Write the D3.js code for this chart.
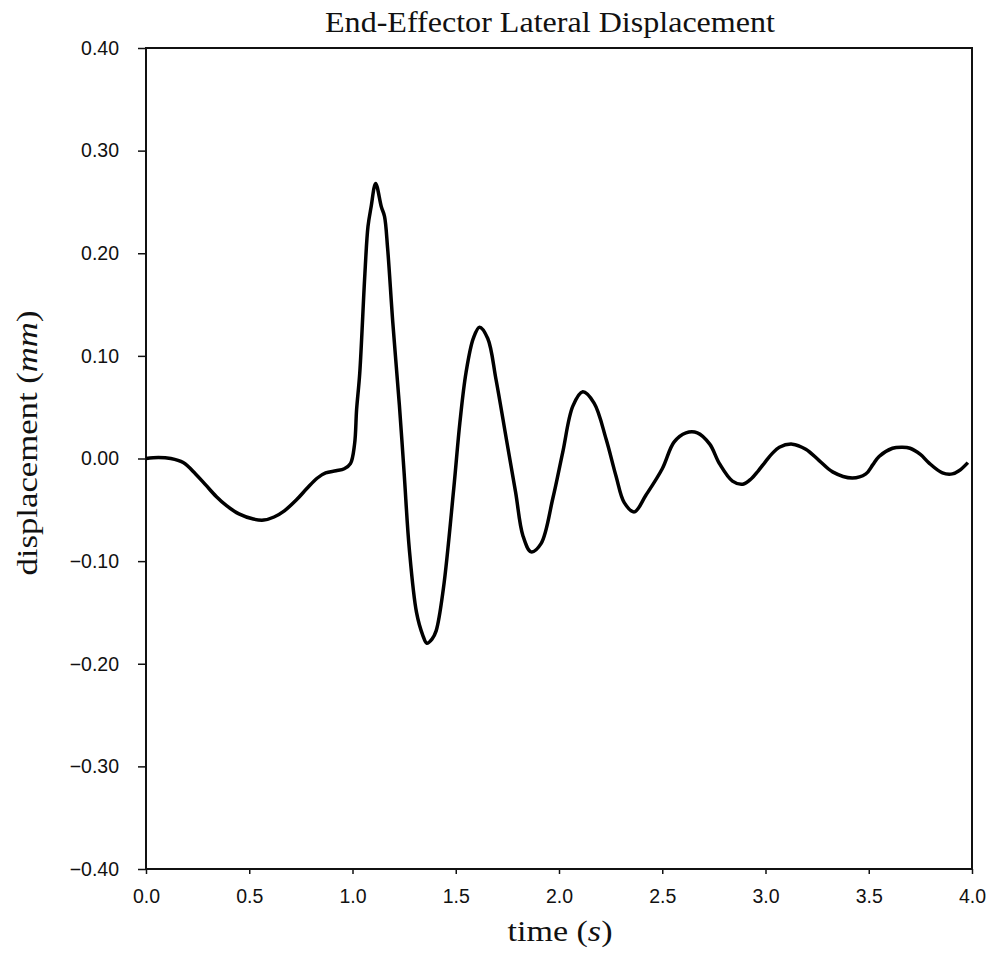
<!DOCTYPE html>
<html>
<head>
	<meta charset="utf-8">
	<title>End-Effector Lateral Displacement</title>
	<script src="https://cdn.jsdelivr.net/npm/d3@7"></script>
	<style>
		body { margin: 0; background: #fff; }
		.tick text { font-family: "Liberation Sans", Arial, sans-serif; font-size: 19.5px; fill: #111; }
		.tick line { stroke: #111; stroke-width: 1.5; }
		.lbl { font-family: "Liberation Serif", "DejaVu Serif", serif; font-size: 29px; fill: #111; }
	</style>
</head>
<body>
<div id="chart"></div>

<script type="text/javascript">
	// duong cong doc tu hinh goc (thoi gian s, do lech mm)
	let time = [0.00, 0.06, 0.12, 0.18, 0.24, 0.29, 0.34, 0.39, 0.45, 0.52, 0.57, 0.62, 0.67, 0.73, 0.78, 0.83, 0.87, 0.92, 0.96, 0.99,
		1.01, 1.02, 1.035, 1.06, 1.075, 1.09, 1.112, 1.14, 1.155, 1.17, 1.195, 1.227, 1.25, 1.275, 1.31, 1.34, 1.36, 1.385, 1.405, 1.44,
		1.49, 1.52, 1.55, 1.585, 1.615, 1.655, 1.695, 1.745, 1.79, 1.825, 1.865, 1.913, 1.97, 2.018, 2.067, 2.115, 2.17, 2.228, 2.276, 2.316,
		2.365, 2.42, 2.50, 2.557, 2.615, 2.67, 2.73, 2.777, 2.84, 2.89, 2.93, 2.965, 3.00, 3.033, 3.067, 3.13, 3.195, 3.26, 3.325, 3.42,
		3.486, 3.52, 3.55, 3.615, 3.663, 3.70, 3.75, 3.79, 3.857, 3.905, 3.937, 3.98];
	let disp = [0.000, 0.001, 0.000, -0.004, -0.015, -0.026, -0.037, -0.046, -0.054, -0.059, -0.060, -0.057, -0.051, -0.040, -0.029, -0.019, -0.014, -0.012, -0.010, -0.005,
		0.014, 0.048, 0.083, 0.180, 0.226, 0.245, 0.268, 0.245, 0.236, 0.205, 0.133, 0.052, -0.014, -0.088, -0.150, -0.172, -0.180, -0.176, -0.168, -0.127,
		-0.030, 0.035, 0.084, 0.117, 0.128, 0.117, 0.077, 0.019, -0.033, -0.075, -0.091, -0.083, -0.039, 0.006, 0.051, 0.065, 0.054, 0.019, -0.017, -0.043,
		-0.052, -0.036, -0.010, 0.016, 0.025, 0.025, 0.014, -0.005, -0.022, -0.025, -0.020, -0.012, -0.003, 0.005, 0.011, 0.014, 0.009, -0.002, -0.013, -0.019,
		-0.015, -0.006, 0.002, 0.010, 0.011, 0.010, 0.004, -0.004, -0.014, -0.015, -0.012, -0.004];

	let xTicks = [0, 0.5, 1, 1.5, 2, 2.5, 3, 3.5, 4];
	let yTicks = [-0.4, -0.3, -0.2, -0.1, 0, 0.1, 0.2, 0.3, 0.4];

	let width = 991, height = 953;
	let mLeft = 146, mRight = 972, mTop = 48, mBottom = 869;

	let svg = d3.select("#chart").append("svg").attr("width", width).attr("height", height);

	let x = d3.scaleLinear().domain([0, 4]).range([mLeft, mRight]);
	let y = d3.scaleLinear().domain([-0.4, 0.4]).range([mBottom, mTop]);

	// truc x
	svg.append("g")
		.attr("transform", "translate(0," + mBottom + ")")
		.call(d3.axisBottom(x).tickValues(xTicks).tickFormat(d3.format(".1f")).tickSize(5).tickSizeOuter(0).tickPadding(15))
		.call(g => g.select(".domain").remove());

	// truc y
	svg.append("g")
		.attr("transform", "translate(" + mLeft + ",0)")
		.call(d3.axisLeft(y).tickValues(yTicks).tickFormat(d3.format(".2f")).tickSize(8).tickSizeOuter(0).tickPadding(19))
		.call(g => g.select(".domain").remove());

	// khung
	svg.append("rect")
		.attr("x", mLeft).attr("y", mTop)
		.attr("width", mRight - mLeft).attr("height", mBottom - mTop)
		.attr("fill", "none").attr("stroke", "#111").attr("stroke-width", 2);

	let data = time.map((t, i) => [t, disp[i]]);
	let line = d3.line().x(d => x(d[0])).y(d => y(d[1])).curve(d3.curveCatmullRom.alpha(0.5));

	svg.append("path")
		.datum(data)
		.attr("d", line)
		.attr("fill", "none")
		.attr("stroke", "#000")
		.attr("stroke-width", 3.5)
		.attr("stroke-linejoin", "round");

	// tieu de va nhan (ep do rong gan voi ban goc)
	svg.append("text").attr("class", "lbl")
		.attr("x", 550).attr("y", 32).attr("text-anchor", "middle")
		.attr("textLength", 450).attr("lengthAdjust", "spacingAndGlyphs")
		.text("End-Effector Lateral Displacement");

	let xl = svg.append("text").attr("class", "lbl")
		.attr("x", 560).attr("y", 941).attr("text-anchor", "middle")
		.attr("textLength", 105).attr("lengthAdjust", "spacingAndGlyphs");
	xl.append("tspan").text("time (");
	xl.append("tspan").attr("font-style", "italic").text("s");
	xl.append("tspan").text(")");

	let yl = svg.append("text").attr("class", "lbl")
		.attr("transform", "translate(37,443) rotate(-90)").attr("text-anchor", "middle")
		.attr("textLength", 265).attr("lengthAdjust", "spacingAndGlyphs");
	yl.append("tspan").text("displacement (");
	yl.append("tspan").attr("font-style", "italic").text("mm");
	yl.append("tspan").text(")");
</script>
</body>
</html>
